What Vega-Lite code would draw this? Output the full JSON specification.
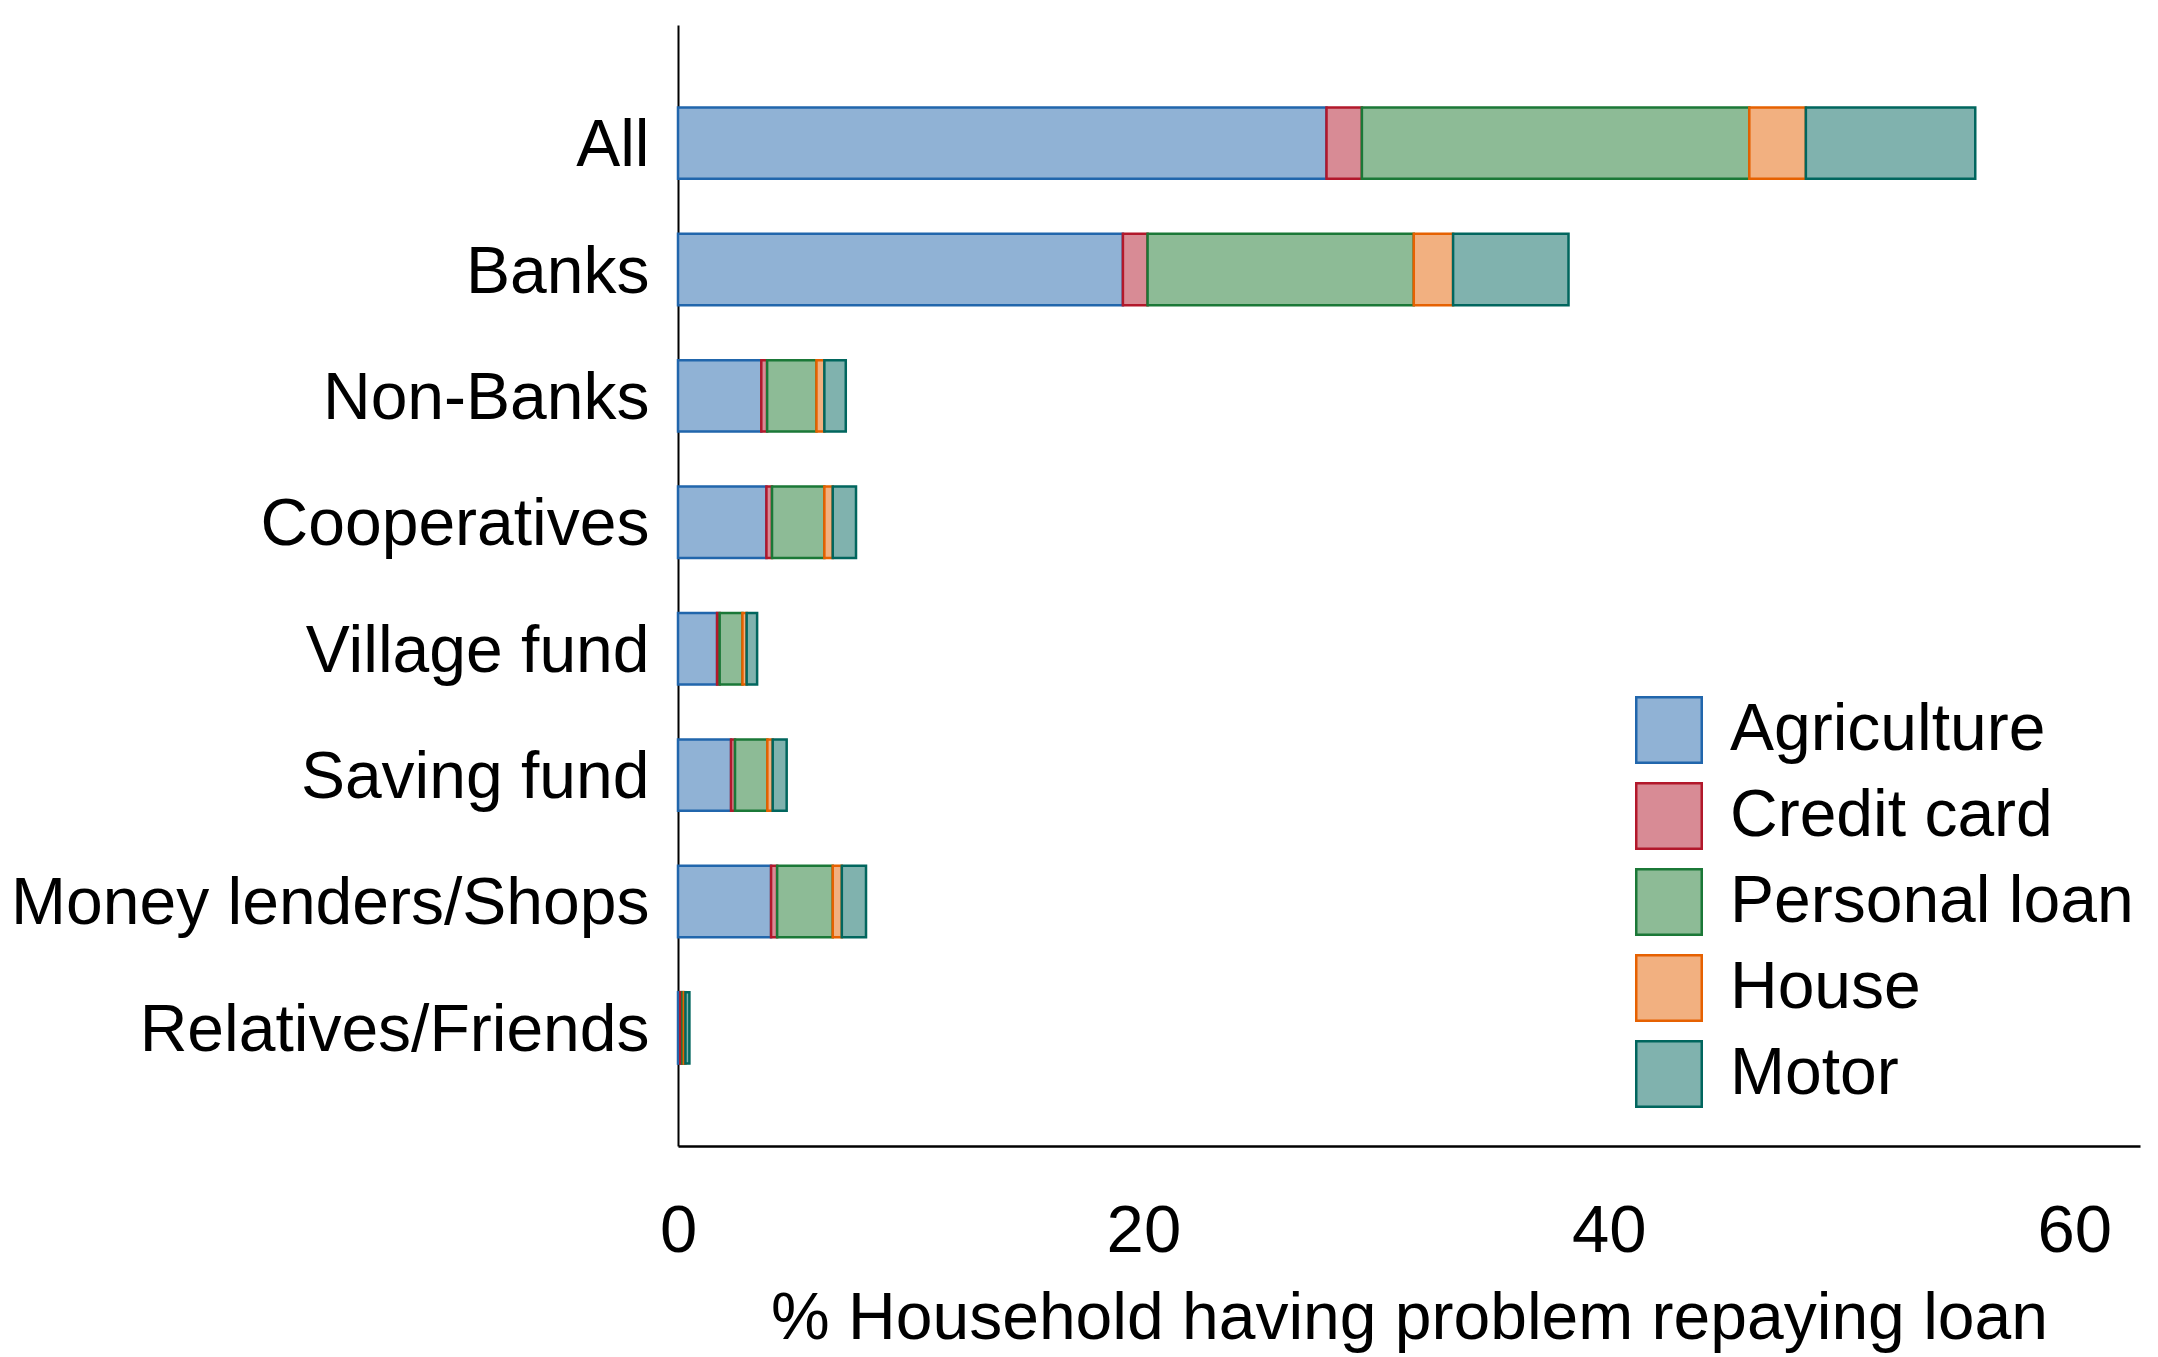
{
  "$schema": "https://vega.github.io/schema/vega-lite/v6.json",
  "width": 1462,
  "height": 1121,
  "autosize": {"type": "none"},
  "padding": {"left": 678, "top": 25, "right": 18, "bottom": 211},
  "background": "white",
  "config": {
    "view": {"stroke": null},
    "font": "Liberation Sans",
    "axis": {"labelFont": "Liberation Sans", "titleFont": "Liberation Sans", "labelColor": "black", "titleColor": "black", "titleFontWeight": "normal"},
    "legend": {"labelFont": "Liberation Sans"}
  },
  "data": {
    "values": [
      {"source": "All", "type": "Agriculture", "value": 27.87, "ord": 1},
      {"source": "All", "type": "Credit card", "value": 1.52, "ord": 2},
      {"source": "All", "type": "Personal loan", "value": 16.65, "ord": 3},
      {"source": "All", "type": "House", "value": 2.43, "ord": 4},
      {"source": "All", "type": "Motor", "value": 7.28, "ord": 5},
      {"source": "Banks", "type": "Agriculture", "value": 19.12, "ord": 1},
      {"source": "Banks", "type": "Credit card", "value": 1.06, "ord": 2},
      {"source": "Banks", "type": "Personal loan", "value": 11.44, "ord": 3},
      {"source": "Banks", "type": "House", "value": 1.69, "ord": 4},
      {"source": "Banks", "type": "Motor", "value": 4.96, "ord": 5},
      {"source": "Non-Banks", "type": "Agriculture", "value": 3.58, "ord": 1},
      {"source": "Non-Banks", "type": "Credit card", "value": 0.25, "ord": 2},
      {"source": "Non-Banks", "type": "Personal loan", "value": 2.12, "ord": 3},
      {"source": "Non-Banks", "type": "House", "value": 0.34, "ord": 4},
      {"source": "Non-Banks", "type": "Motor", "value": 0.92, "ord": 5},
      {"source": "Cooperatives", "type": "Agriculture", "value": 3.8, "ord": 1},
      {"source": "Cooperatives", "type": "Credit card", "value": 0.24, "ord": 2},
      {"source": "Cooperatives", "type": "Personal loan", "value": 2.25, "ord": 3},
      {"source": "Cooperatives", "type": "House", "value": 0.36, "ord": 4},
      {"source": "Cooperatives", "type": "Motor", "value": 1.0, "ord": 5},
      {"source": "Village fund", "type": "Agriculture", "value": 1.68, "ord": 1},
      {"source": "Village fund", "type": "Credit card", "value": 0.11, "ord": 2},
      {"source": "Village fund", "type": "Personal loan", "value": 0.98, "ord": 3},
      {"source": "Village fund", "type": "House", "value": 0.18, "ord": 4},
      {"source": "Village fund", "type": "Motor", "value": 0.45, "ord": 5},
      {"source": "Saving fund", "type": "Agriculture", "value": 2.28, "ord": 1},
      {"source": "Saving fund", "type": "Credit card", "value": 0.17, "ord": 2},
      {"source": "Saving fund", "type": "Personal loan", "value": 1.39, "ord": 3},
      {"source": "Saving fund", "type": "House", "value": 0.23, "ord": 4},
      {"source": "Saving fund", "type": "Motor", "value": 0.6, "ord": 5},
      {"source": "Money lenders/Shops", "type": "Agriculture", "value": 4.0, "ord": 1},
      {"source": "Money lenders/Shops", "type": "Credit card", "value": 0.26, "ord": 2},
      {"source": "Money lenders/Shops", "type": "Personal loan", "value": 2.39, "ord": 3},
      {"source": "Money lenders/Shops", "type": "House", "value": 0.39, "ord": 4},
      {"source": "Money lenders/Shops", "type": "Motor", "value": 1.04, "ord": 5},
      {"source": "Relatives/Friends", "type": "Agriculture", "value": 0.1, "ord": 1},
      {"source": "Relatives/Friends", "type": "Credit card", "value": 0.09, "ord": 2},
      {"source": "Relatives/Friends", "type": "Personal loan", "value": 0.06, "ord": 3},
      {"source": "Relatives/Friends", "type": "House", "value": 0.07, "ord": 4},
      {"source": "Relatives/Friends", "type": "Motor", "value": 0.17, "ord": 5}
    ]
  },
  "mark": {"type": "bar", "strokeWidth": 2.5, "fillOpacity": 1},
  "encoding": {
    "y": {
      "field": "source",
      "type": "nominal",
      "sort": ["All", "Banks", "Non-Banks", "Cooperatives", "Village fund", "Saving fund", "Money lenders/Shops", "Relatives/Friends"],
      "scale": {"paddingInner": 0.435, "paddingOuter": 0.652},
      "axis": {
        "title": null,
        "ticks": false,
        "labelFontSize": 66,
        "labelPadding": 29,
        "labelOffset": 3,
        "labelLimit": 1000,
        "domainColor": "black",
        "domainWidth": 2
      }
    },
    "x": {
      "field": "value",
      "type": "quantitative",
      "stack": "zero",
      "scale": {"domain": [0, 62.83], "nice": false, "zero": true},
      "axis": {
        "title": "% Household having problem repaying loan",
        "values": [0, 20, 40, 60],
        "grid": false,
        "ticks": false,
        "labelFontSize": 67,
        "labelPadding": 52,
        "labelFlush": false,
        "titleFontSize": 66,
        "titlePadding": 22,
        "domainColor": "black",
        "domainWidth": 2.5
      }
    },
    "fill": {
      "field": "type",
      "type": "nominal",
      "scale": {
        "domain": ["Agriculture", "Credit card", "Personal loan", "House", "Motor"],
        "range": ["#90b2d5", "#d88b95", "#8dbb96", "#f2b080", "#80b2ae"]
      },
      "legend": {
        "title": null,
        "orient": "none",
        "legendX": 957,
        "legendY": 671,
        "symbolType": "square",
        "symbolSize": 4290,
        "symbolStrokeWidth": 2.5,
        "labelFontSize": 66,
        "labelOffset": 27,
        "rowPadding": 10,
        "padding": 0,
        "labelLimit": 1000
      }
    },
    "stroke": {
      "field": "type",
      "type": "nominal",
      "scale": {
        "domain": ["Agriculture", "Credit card", "Personal loan", "House", "Motor"],
        "range": ["#2166ac", "#b2182b", "#1b7837", "#e66101", "#01665e"]
      },
      "legend": {
        "title": null,
        "orient": "none",
        "legendX": 957,
        "legendY": 671,
        "symbolType": "square",
        "symbolSize": 4290,
        "symbolStrokeWidth": 2.5,
        "labelFontSize": 66,
        "labelOffset": 27,
        "rowPadding": 10,
        "padding": 0,
        "labelLimit": 1000
      }
    },
    "order": {"field": "ord", "type": "quantitative"}
  }
}
